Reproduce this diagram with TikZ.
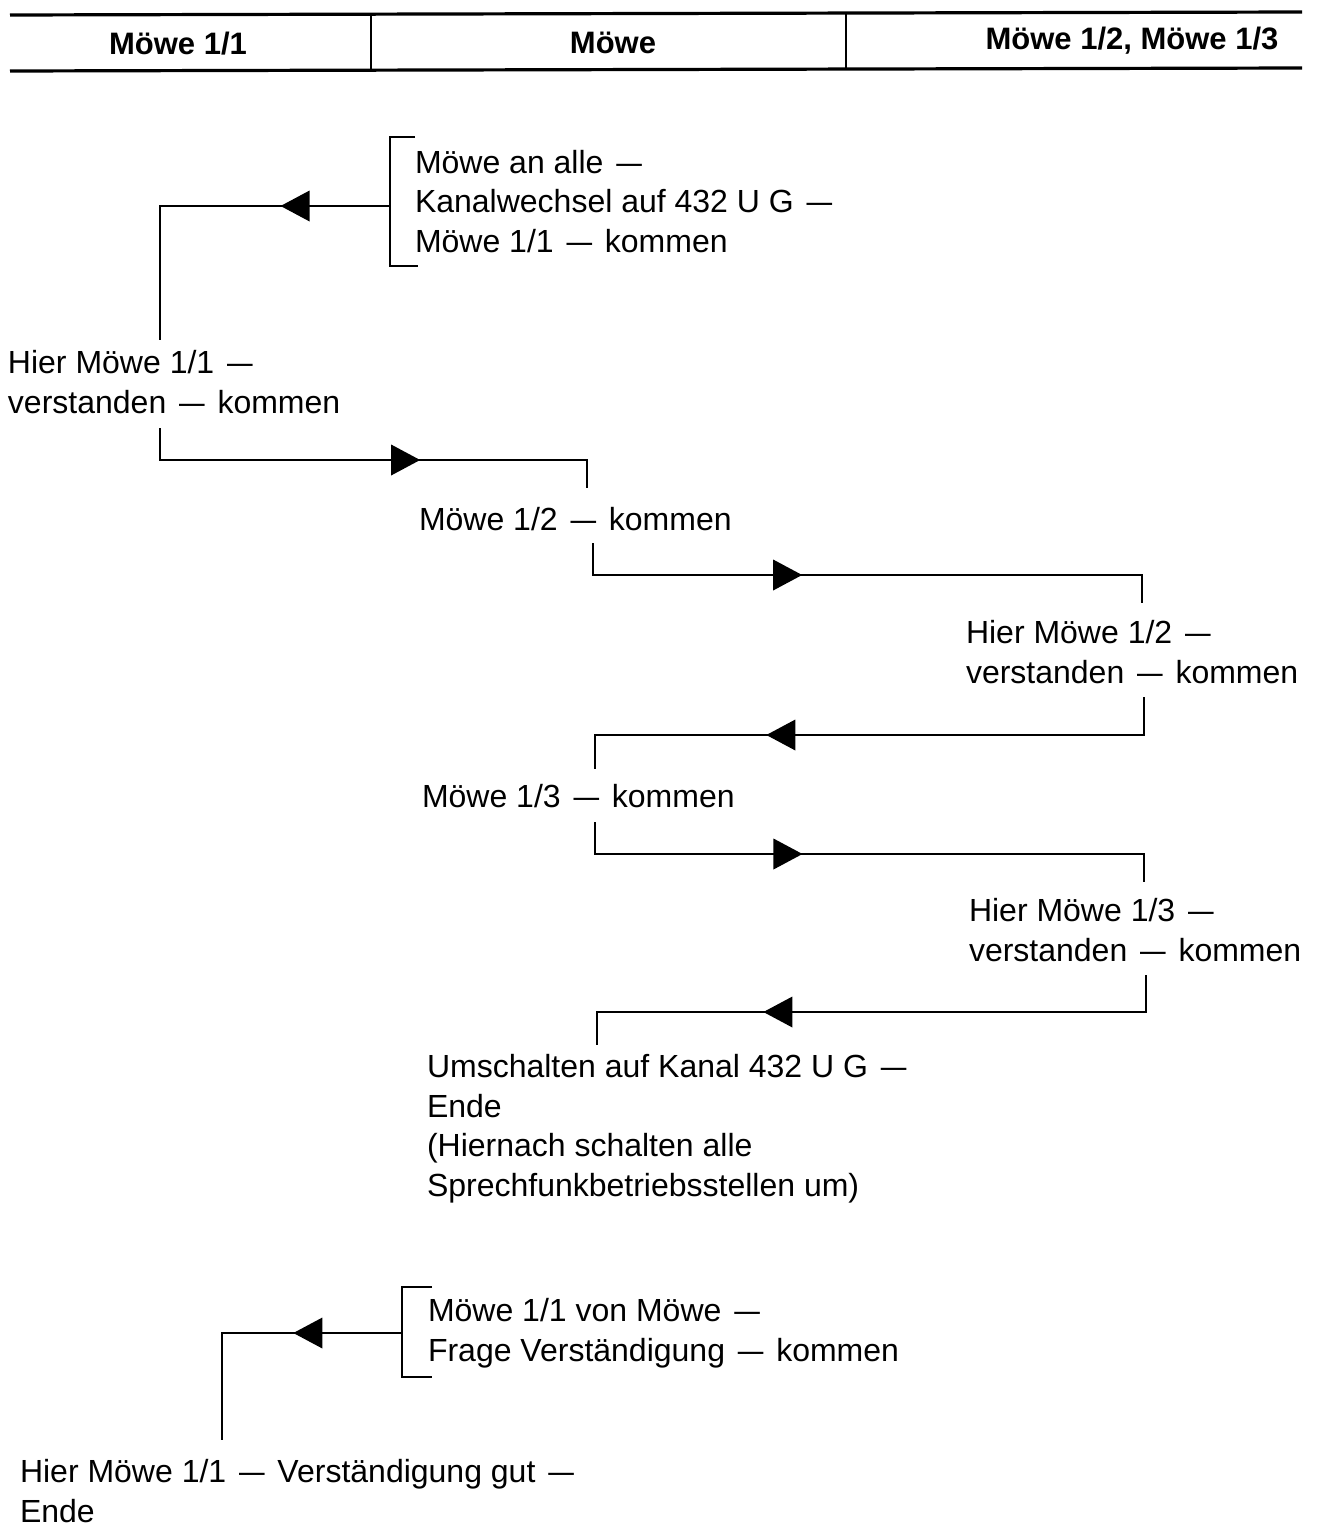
\documentclass[tikz,border=0pt]{standalone}
\usepackage{graphicx}
\usepackage{fontspec}
\setmainfont{Liberation Sans}
\usetikzlibrary{shapes.geometric}

% spaced dash between the parts of a radio message
\newcommand{\msgdash}{\unskip\hspace{0.4em}\scalebox{0.8}[1]{—}\hspace{0.4em}\ignorespaces}

\begin{document}
\begin{tikzpicture}[
  x=1pt, y=-1pt,
  % a multi-line node sits on the baseline of its last line
  body/.style={font=\fontsize{32}{39.5}\selectfont, inner sep=0pt, outer sep=0pt,
               anchor=base west, align=left},
  head/.style={font=\bfseries\fontsize{31}{36}\selectfont, inner sep=0pt, anchor=base},
  rule/.style={line width=3.2pt},
  divider/.style={line width=2pt},
  wire/.style={line width=2.4pt, line join=miter},
  tip/.style={isosceles triangle, isosceles triangle stretches, fill=black, draw=none,
              inner sep=0pt, minimum width=31pt, minimum height=29pt,
              sloped, allow upside down}
]
\useasboundingbox (0,0) rectangle (1328,1528);

% ---- column header ----
\draw[rule] (10,15) -- (1302,12);
\draw[rule] (10,71) -- (1302,68);
\draw[divider] (371,14) -- (371,70);
\draw[divider] (846,13) -- (846,69);
\node[head] (colA) at (178,55) {Möwe 1/1};
\node[head] (colB) at (613,54) {Möwe};
\node[head] (colC) at (1132,49) {Möwe 1/2, Möwe 1/3};

% ---- messages ----
\node[body] (call)   at (415,252)  {Möwe an alle \msgdash\\Kanalwechsel auf 432 U G \msgdash\\Möwe 1/1 \msgdash kommen};
\node[body] (ack1)   at (8,413)    {Hier Möwe 1/1 \msgdash\\verstanden \msgdash kommen};
\node[body] (call2)  at (419,530)  {Möwe 1/2 \msgdash kommen};
\node[body] (ack2)   at (966,683)  {Hier Möwe 1/2 \msgdash\\verstanden \msgdash kommen};
\node[body] (call3)  at (422,807)  {Möwe 1/3 \msgdash kommen};
\node[body] (ack3)   at (969,961)  {Hier Möwe 1/3 \msgdash\\verstanden \msgdash kommen};
\node[body] (switch) at (427,1196) {Umschalten auf Kanal 432 U G \msgdash\\Ende\\(Hiernach schalten alle\\Sprechfunkbetriebsstellen um)};
\node[body] (check)  at (428,1361) {Möwe 1/1 von Möwe \msgdash\\Frage Verständigung \msgdash kommen};
\node[body] (ack4)   at (20,1522)  {Hier Möwe 1/1 \msgdash Verständigung gut \msgdash\\Ende};

% ---- connector corners ----
\coordinate (callTop) at (415,137);  \coordinate (callBr) at (390,206);
\coordinate (callBot) at (418,266);
\coordinate (a1) at (160,206);  \coordinate (a1e) at (160,340);
\coordinate (a2s) at (160,428); \coordinate (a2a) at (160,460);
\coordinate (a2b) at (587,460); \coordinate (a2e) at (587,488);
\coordinate (a3s) at (593,543); \coordinate (a3a) at (593,575);
\coordinate (a3b) at (1142,575); \coordinate (a3e) at (1142,603);
\coordinate (a4s) at (1144,697); \coordinate (a4a) at (1144,735);
\coordinate (a4b) at (595,735);  \coordinate (a4e) at (595,769);
\coordinate (a5s) at (595,822);  \coordinate (a5a) at (595,854);
\coordinate (a5b) at (1144,854); \coordinate (a5e) at (1144,882);
\coordinate (a6s) at (1146,975); \coordinate (a6a) at (1146,1012);
\coordinate (a6b) at (597,1012); \coordinate (a6e) at (597,1045);
\coordinate (chkTop) at (432,1287); \coordinate (chkBr) at (402,1333);
\coordinate (chkBot) at (432,1377);
\coordinate (a7) at (222,1333); \coordinate (a7e) at (222,1440);

% ---- brackets round the calls ----
\draw[wire] (callTop) -- (callTop -| callBr) -- (callBot -| callBr) -- (callBot);
\draw[wire] (chkTop) -- (chkTop -| chkBr) -- (chkBot -| chkBr) -- (chkBot);

% ---- message flow ----
\draw[wire] (callBr) -- node[tip,pos=.39]{} (a1) -- (a1e);
\draw[wire] (a2s) -- (a2a) -- node[tip,pos=.563]{} (a2b) -- (a2e);
\draw[wire] (a3s) -- (a3a) -- node[tip,pos=.345]{} (a3b) -- (a3e);
\draw[wire] (a4s) -- (a4a) -- node[tip,pos=.652]{} (a4b) -- (a4e);
\draw[wire] (a5s) -- (a5a) -- node[tip,pos=.342]{} (a5b) -- (a5e);
\draw[wire] (a6s) -- (a6a) -- node[tip,pos=.661]{} (a6b) -- (a6e);
\draw[wire] (chkBr) -- node[tip,pos=.494]{} (a7) -- (a7e);
\end{tikzpicture}
\end{document}
